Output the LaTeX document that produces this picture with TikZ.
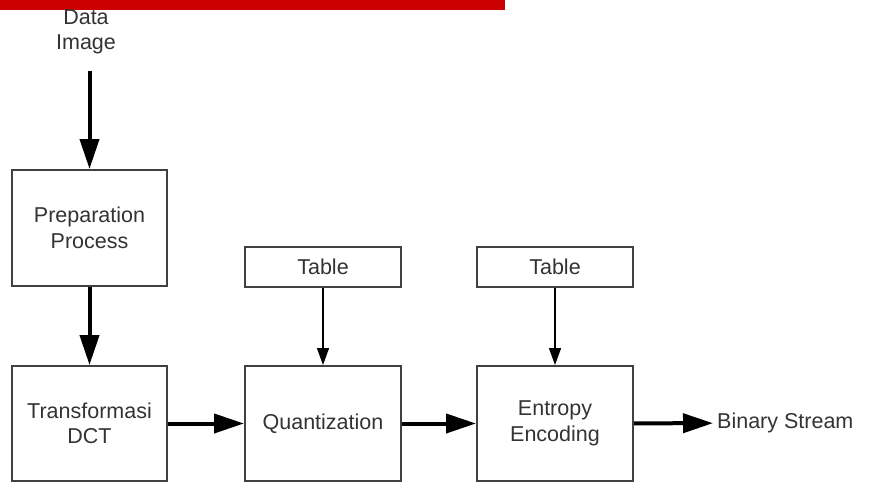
\documentclass[tikz,border=0pt]{standalone}
\usepackage{fontspec}
\setmainfont{Liberation Sans}
\usetikzlibrary{positioning, arrows.meta}
\definecolor{boxgray}{HTML}{404040}
\definecolor{textgray}{HTML}{333333}
\definecolor{barred}{HTML}{CC0000}
\tikzset{
    x=1pt, y=-1pt, % one unit is one pixel of the drawing, y runs downwards
    block/.style={draw=boxgray, line width=2pt, minimum width=155pt, minimum height=116pt, align=center, text=textgray}, % the big process boxes
    tablebox/.style={block, minimum height=40pt}, % the small table boxes
    label/.style={align=center, text=textgray}, % free texts
    bigarrow/.style={line width=4pt, -{Triangle[length=30pt, width=19pt]}}, % main data flow
    smallarrow/.style={line width=1.5pt, -{Triangle[length=17pt, width=12pt]}}, % table input
}

\begin{document}
\begin{tikzpicture}[font=\fontsize{21.5}{25.5}\selectfont]
    \useasboundingbox (0,0) rectangle (874,484);
    \fill[barred] (0,0) rectangle (505,10);

    \node[label, inner sep=16pt] (data) at (86,32) {Data\\Image};
    \node[block] (prep) at (89.5,228) {Preparation\\Process};
    \node[block, minimum height=115pt] (dct) at (89.5,423.5) {Transformasi\\DCT};
    \node[block, minimum height=115pt, minimum width=156pt] (quant) at (323,423.5) {Quantization};
    \node[block, minimum height=115pt, minimum width=156pt] (entropy) at (555,423.5) {Entropy\\Encoding};
    \node[tablebox, minimum width=156pt] (table1) at (323,267) {Table};
    \node[tablebox, minimum width=156pt] (table2) at (555,267) {Table};
    \node[label, anchor=west, inner sep=4pt] (stream) at (713,423) {Binary Stream};

    \draw[bigarrow] (prep.north |- data.south) -- (prep.north);
    \draw[bigarrow] (prep) -- (dct);
    \draw[bigarrow] (dct) -- (quant);
    \draw[bigarrow] (quant) -- (entropy);
    \draw[bigarrow] (entropy) -- (stream);
    \draw[smallarrow] (table1) -- (quant);
    \draw[smallarrow] (table2) -- (entropy);
\end{tikzpicture}
\end{document}
